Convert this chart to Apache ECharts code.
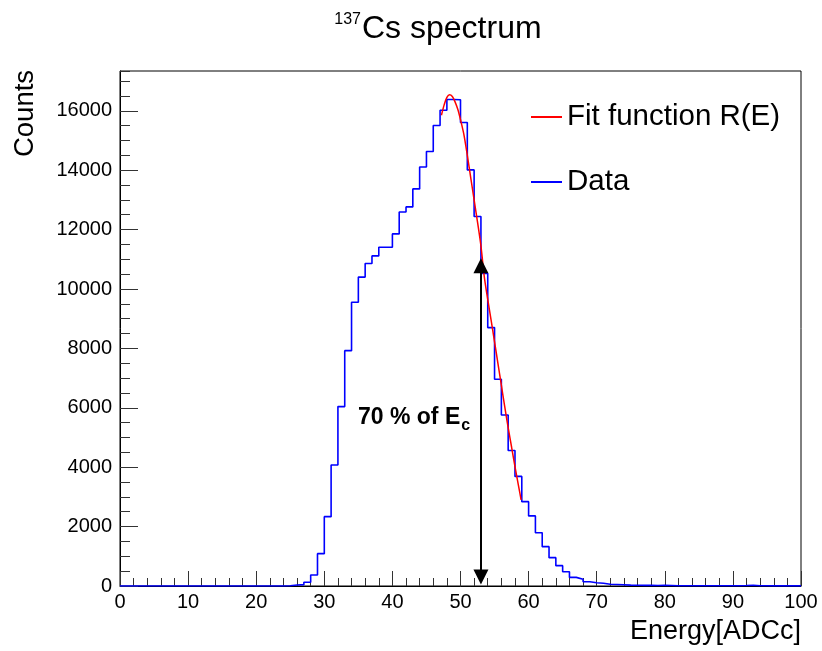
<!DOCTYPE html>
<html><head><meta charset="utf-8">
<script src="https://cdn.jsdelivr.net/npm/echarts@6/dist/echarts.min.js"></script>
<style>html,body{margin:0;padding:0;background:#fff}#c{width:822px;height:651px}</style>
</head><body><div id="c"></div>
<script>
// Histogram: bin width 1 ADCc, bins start at 0..99
const binWidth = 1;
const counts = [
  0,0,0,0,0,0,0,0,0,0,
  0,0,0,0,0,0,0,0,0,0,
  0,0,0,0,10,35,45,125,370,1090,
  2335,4075,6040,7925,9555,10400,10860,11115,11405,11405,
  11855,12595,12765,13370,14110,14630,15505,16020,16380,16370,
  15605,14010,12440,10520,8700,6960,5760,4560,3690,2840,
  2360,1795,1325,955,685,480,290,225,145,110,
  90,60,50,40,30,25,20,25,15,20,
  15,10,10,10,10,10,10,10,10,10,
  10,15,25,10,10,5,5,5,5,5
];
// Fit function R(E) sampled points
const fitE = [47.2,47.6,48.0,48.4,48.8,49.2,49.6,50.0,50.5,51.0,51.5,52.0,52.5,53.0,53.5,54.0,54.5,55.0,55.5,56.0,56.5,57.0,57.5,58.0,58.5,58.9];
const fitR = [15850,16200,16450,16540,16480,16300,16050,15700,15200,14500,13750,13000,12250,11450,10400,9650,8940,8220,7490,6760,6030,5330,4680,4020,3400,2900];
// Arrow marking 70 % of E_c
const arrowE = 53;
const arrowLow = 300;
const arrowHigh = 10780;
const xTicks = {min:0, max:100, interval:10};
const yTicks = {min:0, max:17340, interval:2000, minor:500};

const FONT = "'Liberation Sans', Arial, Helvetica, sans-serif";
const histData = counts.map((v,i)=>[i*binWidth, v]);
histData.push([counts.length*binWidth, counts[counts.length-1]]);
const fitData = fitE.map((e,i)=>[e, fitR[i]]);

// measure text widths for sub/superscript placement
const mctx = document.createElement('canvas').getContext('2d');
function tw(text, size, weight){ mctx.font = (weight||'normal') + ' ' + size + 'px ' + FONT; return mctx.measureText(text).width; }
const annFont = 23, annX = 358;
const annW = tw('70 % of E', annFont, 'bold');
const supW = tw('137', 16);

const chart = echarts.init(document.getElementById('c'), null, {renderer:'canvas'});
const tickStyle = {color:'#333', width:1};
chart.setOption({
  animation:false,
  backgroundColor:'#fff',
  textStyle:{fontFamily:FONT},
  grid:{left:120, right:21, top:71, bottom:65, show:true, borderColor:'#000', borderWidth:1, backgroundColor:'transparent'},
  legend:{
    data:['Fit function R(E)','Data'], orient:'vertical', left:531, top:102, padding:0,
    icon:'rect', itemWidth:31, itemHeight:2, itemGap:35,
    textStyle:{fontSize:29.5, color:'#000', fontFamily:FONT}
  },
  xAxis:[{
    type:'value', min:xTicks.min, max:xTicks.max, interval:xTicks.interval,
    axisLine:{show:true, onZero:false, lineStyle:{color:'#000', width:1}},
    axisTick:{show:true, inside:true, length:15, lineStyle:tickStyle},
    minorTick:{show:true, splitNumber:5, length:8, lineStyle:tickStyle},
    splitLine:{show:false},
    axisLabel:{fontSize:20, color:'#000', margin:6, fontFamily:FONT, formatter:v=>String(v)}
  }],
  yAxis:[{
    type:'value', min:yTicks.min, max:yTicks.max, interval:yTicks.interval,
    axisLine:{show:true, onZero:false, lineStyle:{color:'#000', width:1}},
    axisTick:{show:true, inside:true, length:18, lineStyle:tickStyle},
    splitLine:{show:false},
    axisLabel:{fontSize:20, color:'#000', margin:8, showMaxLabel:false, fontFamily:FONT, formatter:v=>String(v)}
  },{
    type:'value', min:yTicks.min, max:yTicks.max, interval:yTicks.minor, position:'left',
    axisLine:{show:false},
    axisTick:{show:true, inside:true, length:10, lineStyle:tickStyle},
    splitLine:{show:false},
    axisLabel:{show:false}
  }],
  series:[{
    name:'Data', type:'line', step:'end', data:histData, showSymbol:false, symbol:'none',
    color:'#0000ff', lineStyle:{color:'#0000ff', width:1.6}, z:2,
    markLine:{
      silent:true, symbol:['triangle','triangle'], symbolSize:[15,15],
      lineStyle:{color:'#000', width:2, type:'solid'}, label:{show:false},
      data:[[{coord:[arrowE, arrowLow]},{coord:[arrowE, arrowHigh]}]]
    }
  },{
    name:'Fit function R(E)', type:'line', data:fitData, smooth:0.3, showSymbol:false, symbol:'none',
    color:'#ff0000', lineStyle:{color:'#ff0000', width:1.5}, z:3
  }],
  graphic:[
    {type:'text', x:361 - supW, y:20, style:{text:'137', fontSize:16, fill:'#000', align:'left', verticalAlign:'middle', fontFamily:FONT}},
    {type:'text', x:362, y:29, style:{text:'Cs spectrum', fontSize:32, fill:'#000', align:'left', verticalAlign:'middle', fontFamily:FONT}},
    {type:'text', x:25, y:113.5, rotation:Math.PI/2, style:{text:'Counts', fontSize:27.5, fill:'#000', align:'center', verticalAlign:'middle', fontFamily:FONT}},
    {type:'text', x:801, y:632, style:{text:'Energy[ADCc]', fontSize:27, fill:'#000', align:'right', verticalAlign:'middle', fontFamily:FONT}},
    {type:'text', x:annX, y:418, style:{text:'70 % of E', fontSize:annFont, fontWeight:'bold', fill:'#000', align:'left', verticalAlign:'middle', fontFamily:FONT}},
    {type:'text', x:annX + annW + 1, y:426, style:{text:'c', fontSize:16, fontWeight:'bold', fill:'#000', align:'left', verticalAlign:'middle', fontFamily:FONT}}
  ]
});
</script></body></html>
